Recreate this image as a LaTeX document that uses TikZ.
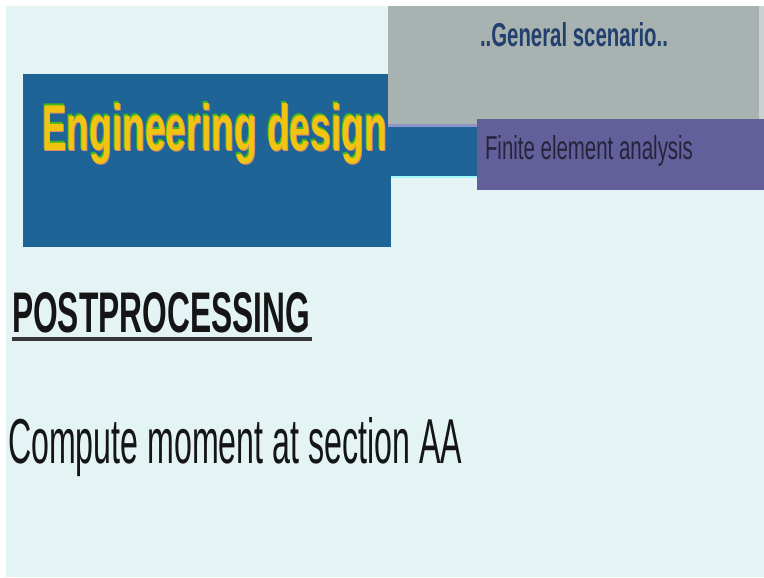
\documentclass[tikz,border=0pt]{standalone}
\usepackage{fontspec}
\setmainfont{Liberation Sans}
\usepackage{graphicx}
\definecolor{bgcyan}{HTML}{E4F4F4}
\definecolor{slideblue}{HTML}{1E6496}
\definecolor{slidegray}{HTML}{A8B2B0}
\definecolor{slidepurple}{HTML}{625F9B}
\definecolor{edgelav}{HTML}{8E95C8}
\definecolor{titleyellow}{HTML}{F2C412}
\definecolor{titlegreen}{HTML}{3EB81A}
\definecolor{titlepink}{HTML}{D98A70}
\definecolor{navytext}{HTML}{22406E}
\definecolor{darktext}{HTML}{24243A}
\definecolor{bodytext}{HTML}{151515}
\newcommand\engtitlebox{\resizebox{345pt}{47pt}{\bfseries Engineering design}}
\tikzset{
  txt/.style={anchor=base west, inner sep=0pt, outer sep=0pt},
}
\begin{document}
\begin{tikzpicture}[x=1pt,y=-1pt]
\useasboundingbox (0,0) rectangle (764,578);
\fill[white] (0,0) rectangle (764,578);
\fill[bgcyan] (6,6) rectangle (764,577);
% blue main block and strip
\fill[slideblue] (23,74) rectangle (391,247);
\fill[slideblue] (385,125) rectangle (480,176);
\fill[bgcyan!70!cyan] (391,175.5) rectangle (477,177.5);
% gray block
\fill[slidegray] (388,6) rectangle (759,125);
\fill[slidegray!60!white] (759,6) rectangle (764,125);
\fill[edgelav] (388,124) rectangle (477,127);
% purple block
\fill[slidepurple] (477,119) rectangle (764,190);
% title with coloured edge (one node)
\node[txt] (title) at (42,150) {\makebox[0pt][l]{\hspace{-1pt}\raisebox{1.5pt}{\color{titlegreen}\engtitlebox}}\makebox[0pt][l]{\hspace{1pt}\raisebox{-1.5pt}{\color{titlepink}\engtitlebox}}{\color{titleyellow}\engtitlebox}};
% other texts
\node[txt, text=navytext] (scen) at (480,47) {\resizebox{188pt}{24pt}{\bfseries ..General scenario..}};
\node[txt, text=darktext] (fea) at (485,159) {\resizebox{208pt}{24pt}{Finite element analysis}};
\node[txt, text=bodytext] (post) at (12,332) {\resizebox{298pt}{40pt}{\bfseries POSTPROCESSING}};
\fill[bodytext!85!white] (12,337) rectangle (312,341);
\node[txt, text=bodytext] (comp) at (8,463) {\resizebox{454pt}{46pt}{Compute moment at section AA}};
\end{tikzpicture}
\end{document}
